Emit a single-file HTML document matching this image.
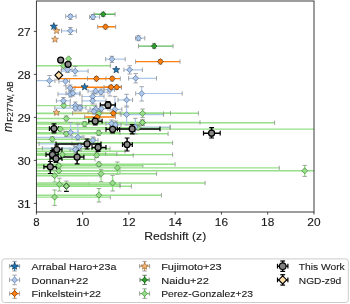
<!DOCTYPE html>
<html><head><meta charset="utf-8"><style>
html,body{margin:0;padding:0;background:#fff;}
svg{display:block;will-change:transform;}
text{font-family:"Liberation Sans",sans-serif;fill:#1a1a1a;stroke:#1a1a1a;stroke-width:0.12px;}
.tk{font-size:11.4px;}
.lg{font-size:9.7px;}
.xl{font-size:11.4px;}
</style></head><body>
<svg width="350" height="304" viewBox="0 0 350 304">
<defs><clipPath id="cp"><rect x="36.4" y="1" width="277.6" height="211"/></clipPath></defs>
<g clip-path="url(#cp)">
<line x1="36.4" y1="65.7" x2="110.3" y2="65.7" stroke="#98df8a" stroke-width="1.4"/>
<line x1="63.5" y1="63" x2="63.5" y2="68" stroke="#98df8a" stroke-width="1.4"/>
<line x1="110.3" y1="63.5" x2="110.3" y2="67.9" stroke="#8c8c8c" stroke-width="0.8"/>
<line x1="61.3" y1="63" x2="65.7" y2="63" stroke="#8c8c8c" stroke-width="0.8"/>
<line x1="61.3" y1="68" x2="65.7" y2="68" stroke="#8c8c8c" stroke-width="0.8"/>
<line x1="36.4" y1="105.6" x2="96" y2="105.6" stroke="#98df8a" stroke-width="1.4"/>
<line x1="63.8" y1="103" x2="63.8" y2="108" stroke="#98df8a" stroke-width="1.4"/>
<line x1="96" y1="103.4" x2="96" y2="107.8" stroke="#8c8c8c" stroke-width="0.8"/>
<line x1="61.6" y1="103" x2="66" y2="103" stroke="#8c8c8c" stroke-width="0.8"/>
<line x1="61.6" y1="108" x2="66" y2="108" stroke="#8c8c8c" stroke-width="0.8"/>
<line x1="36.4" y1="113.6" x2="163.4" y2="113.6" stroke="#98df8a" stroke-width="1.4"/>
<line x1="98.8" y1="111" x2="98.8" y2="116" stroke="#98df8a" stroke-width="1.4"/>
<line x1="163.4" y1="111.4" x2="163.4" y2="115.8" stroke="#8c8c8c" stroke-width="0.8"/>
<line x1="96.6" y1="111" x2="101" y2="111" stroke="#8c8c8c" stroke-width="0.8"/>
<line x1="96.6" y1="116" x2="101" y2="116" stroke="#8c8c8c" stroke-width="0.8"/>
<line x1="100" y1="113.3" x2="198.4" y2="113.3" stroke="#98df8a" stroke-width="1.4"/>
<line x1="142.6" y1="109" x2="142.6" y2="117.6" stroke="#98df8a" stroke-width="1.4"/>
<line x1="100" y1="111.1" x2="100" y2="115.5" stroke="#8c8c8c" stroke-width="0.8"/>
<line x1="198.4" y1="111.1" x2="198.4" y2="115.5" stroke="#8c8c8c" stroke-width="0.8"/>
<line x1="140.4" y1="109" x2="144.8" y2="109" stroke="#8c8c8c" stroke-width="0.8"/>
<line x1="140.4" y1="117.6" x2="144.8" y2="117.6" stroke="#8c8c8c" stroke-width="0.8"/>
<line x1="36.4" y1="113.3" x2="170.5" y2="113.3" stroke="#98df8a" stroke-width="1.4"/>
<line x1="170.5" y1="111.1" x2="170.5" y2="115.5" stroke="#8c8c8c" stroke-width="0.8"/>
<line x1="36.4" y1="118.5" x2="100" y2="118.5" stroke="#98df8a" stroke-width="1.4"/>
<line x1="66.3" y1="116" x2="66.3" y2="121" stroke="#98df8a" stroke-width="1.4"/>
<line x1="100" y1="116.3" x2="100" y2="120.7" stroke="#8c8c8c" stroke-width="0.8"/>
<line x1="64.1" y1="116" x2="68.5" y2="116" stroke="#8c8c8c" stroke-width="0.8"/>
<line x1="64.1" y1="121" x2="68.5" y2="121" stroke="#8c8c8c" stroke-width="0.8"/>
<line x1="36.4" y1="122.7" x2="274.6" y2="122.7" stroke="#98df8a" stroke-width="1.4"/>
<line x1="142.6" y1="120" x2="142.6" y2="125.5" stroke="#98df8a" stroke-width="1.4"/>
<line x1="274.6" y1="120.5" x2="274.6" y2="124.9" stroke="#8c8c8c" stroke-width="0.8"/>
<line x1="140.4" y1="120" x2="144.8" y2="120" stroke="#8c8c8c" stroke-width="0.8"/>
<line x1="140.4" y1="125.5" x2="144.8" y2="125.5" stroke="#8c8c8c" stroke-width="0.8"/>
<line x1="36.4" y1="124" x2="140" y2="124" stroke="#98df8a" stroke-width="1.4"/>
<line x1="84.6" y1="121.5" x2="84.6" y2="126.5" stroke="#98df8a" stroke-width="1.4"/>
<line x1="140" y1="121.8" x2="140" y2="126.2" stroke="#8c8c8c" stroke-width="0.8"/>
<line x1="82.4" y1="121.5" x2="86.8" y2="121.5" stroke="#8c8c8c" stroke-width="0.8"/>
<line x1="82.4" y1="126.5" x2="86.8" y2="126.5" stroke="#8c8c8c" stroke-width="0.8"/>
<line x1="36.4" y1="129.1" x2="314" y2="129.1" stroke="#98df8a" stroke-width="1.4"/>
<line x1="60.3" y1="127" x2="60.3" y2="132" stroke="#98df8a" stroke-width="1.4"/>
<line x1="58.1" y1="127" x2="62.5" y2="127" stroke="#8c8c8c" stroke-width="0.8"/>
<line x1="58.1" y1="132" x2="62.5" y2="132" stroke="#8c8c8c" stroke-width="0.8"/>
<line x1="36.4" y1="133.8" x2="168.1" y2="133.8" stroke="#98df8a" stroke-width="1.4"/>
<line x1="66.3" y1="131.5" x2="66.3" y2="136.5" stroke="#98df8a" stroke-width="1.4"/>
<line x1="168.1" y1="131.6" x2="168.1" y2="136" stroke="#8c8c8c" stroke-width="0.8"/>
<line x1="64.1" y1="131.5" x2="68.5" y2="131.5" stroke="#8c8c8c" stroke-width="0.8"/>
<line x1="64.1" y1="136.5" x2="68.5" y2="136.5" stroke="#8c8c8c" stroke-width="0.8"/>
<line x1="36.4" y1="132.8" x2="120" y2="132.8" stroke="#98df8a" stroke-width="1.4"/>
<line x1="98.7" y1="130.5" x2="98.7" y2="135.5" stroke="#98df8a" stroke-width="1.4"/>
<line x1="120" y1="130.6" x2="120" y2="135" stroke="#8c8c8c" stroke-width="0.8"/>
<line x1="96.5" y1="130.5" x2="100.9" y2="130.5" stroke="#8c8c8c" stroke-width="0.8"/>
<line x1="96.5" y1="135.5" x2="100.9" y2="135.5" stroke="#8c8c8c" stroke-width="0.8"/>
<line x1="36.4" y1="139.3" x2="95" y2="139.3" stroke="#98df8a" stroke-width="1.4"/>
<line x1="52.3" y1="136.5" x2="52.3" y2="142" stroke="#98df8a" stroke-width="1.4"/>
<line x1="95" y1="137.1" x2="95" y2="141.5" stroke="#8c8c8c" stroke-width="0.8"/>
<line x1="50.1" y1="136.5" x2="54.5" y2="136.5" stroke="#8c8c8c" stroke-width="0.8"/>
<line x1="50.1" y1="142" x2="54.5" y2="142" stroke="#8c8c8c" stroke-width="0.8"/>
<line x1="36.4" y1="154.6" x2="172.6" y2="154.6" stroke="#98df8a" stroke-width="1.4"/>
<line x1="62.4" y1="152" x2="62.4" y2="157" stroke="#98df8a" stroke-width="1.4"/>
<line x1="172.6" y1="152.4" x2="172.6" y2="156.8" stroke="#8c8c8c" stroke-width="0.8"/>
<line x1="60.2" y1="152" x2="64.6" y2="152" stroke="#8c8c8c" stroke-width="0.8"/>
<line x1="60.2" y1="157" x2="64.6" y2="157" stroke="#8c8c8c" stroke-width="0.8"/>
<line x1="36.4" y1="165.7" x2="142.9" y2="165.7" stroke="#98df8a" stroke-width="1.4"/>
<line x1="58.9" y1="163.5" x2="58.9" y2="168" stroke="#98df8a" stroke-width="1.4"/>
<line x1="142.9" y1="163.5" x2="142.9" y2="167.9" stroke="#8c8c8c" stroke-width="0.8"/>
<line x1="56.7" y1="163.5" x2="61.1" y2="163.5" stroke="#8c8c8c" stroke-width="0.8"/>
<line x1="56.7" y1="168" x2="61.1" y2="168" stroke="#8c8c8c" stroke-width="0.8"/>
<line x1="36.4" y1="170.9" x2="120" y2="170.9" stroke="#98df8a" stroke-width="1.4"/>
<line x1="58.9" y1="168.5" x2="58.9" y2="173" stroke="#98df8a" stroke-width="1.4"/>
<line x1="120" y1="168.7" x2="120" y2="173.1" stroke="#8c8c8c" stroke-width="0.8"/>
<line x1="56.7" y1="168.5" x2="61.1" y2="168.5" stroke="#8c8c8c" stroke-width="0.8"/>
<line x1="56.7" y1="173" x2="61.1" y2="173" stroke="#8c8c8c" stroke-width="0.8"/>
<line x1="36.4" y1="167.9" x2="279.3" y2="167.9" stroke="#98df8a" stroke-width="1.4"/>
<line x1="117.4" y1="162" x2="117.4" y2="174.3" stroke="#98df8a" stroke-width="1.4"/>
<line x1="279.3" y1="165.7" x2="279.3" y2="170.1" stroke="#8c8c8c" stroke-width="0.8"/>
<line x1="115.2" y1="162" x2="119.6" y2="162" stroke="#8c8c8c" stroke-width="0.8"/>
<line x1="115.2" y1="174.3" x2="119.6" y2="174.3" stroke="#8c8c8c" stroke-width="0.8"/>
<line x1="36.4" y1="173.7" x2="156.6" y2="173.7" stroke="#98df8a" stroke-width="1.4"/>
<line x1="101.1" y1="169.6" x2="101.1" y2="181.7" stroke="#98df8a" stroke-width="1.4"/>
<line x1="156.6" y1="171.5" x2="156.6" y2="175.9" stroke="#8c8c8c" stroke-width="0.8"/>
<line x1="98.9" y1="169.6" x2="103.3" y2="169.6" stroke="#8c8c8c" stroke-width="0.8"/>
<line x1="98.9" y1="181.7" x2="103.3" y2="181.7" stroke="#8c8c8c" stroke-width="0.8"/>
<line x1="36.4" y1="170.8" x2="314" y2="170.8" stroke="#98df8a" stroke-width="1.4"/>
<line x1="304.7" y1="165.4" x2="304.7" y2="176.4" stroke="#98df8a" stroke-width="1.4"/>
<line x1="302.5" y1="165.4" x2="306.9" y2="165.4" stroke="#8c8c8c" stroke-width="0.8"/>
<line x1="302.5" y1="176.4" x2="306.9" y2="176.4" stroke="#8c8c8c" stroke-width="0.8"/>
<line x1="36.4" y1="164.3" x2="175.1" y2="164.3" stroke="#98df8a" stroke-width="1.4"/>
<line x1="98.9" y1="162" x2="98.9" y2="166.5" stroke="#98df8a" stroke-width="1.4"/>
<line x1="175.1" y1="162.1" x2="175.1" y2="166.5" stroke="#8c8c8c" stroke-width="0.8"/>
<line x1="96.7" y1="162" x2="101.1" y2="162" stroke="#8c8c8c" stroke-width="0.8"/>
<line x1="96.7" y1="166.5" x2="101.1" y2="166.5" stroke="#8c8c8c" stroke-width="0.8"/>
<line x1="36.4" y1="175.7" x2="100" y2="175.7" stroke="#98df8a" stroke-width="1.4"/>
<line x1="54.6" y1="170" x2="54.6" y2="182.1" stroke="#98df8a" stroke-width="1.4"/>
<line x1="100" y1="173.5" x2="100" y2="177.9" stroke="#8c8c8c" stroke-width="0.8"/>
<line x1="52.4" y1="170" x2="56.8" y2="170" stroke="#8c8c8c" stroke-width="0.8"/>
<line x1="52.4" y1="182.1" x2="56.8" y2="182.1" stroke="#8c8c8c" stroke-width="0.8"/>
<line x1="36.4" y1="184.3" x2="88.9" y2="184.3" stroke="#98df8a" stroke-width="1.4"/>
<line x1="59.4" y1="178.2" x2="59.4" y2="191.1" stroke="#98df8a" stroke-width="1.4"/>
<line x1="88.9" y1="182.1" x2="88.9" y2="186.5" stroke="#8c8c8c" stroke-width="0.8"/>
<line x1="57.2" y1="178.2" x2="61.6" y2="178.2" stroke="#8c8c8c" stroke-width="0.8"/>
<line x1="57.2" y1="191.1" x2="61.6" y2="191.1" stroke="#8c8c8c" stroke-width="0.8"/>
<line x1="36.4" y1="186.3" x2="131.4" y2="186.3" stroke="#98df8a" stroke-width="1.4"/>
<line x1="131.4" y1="184.1" x2="131.4" y2="188.5" stroke="#8c8c8c" stroke-width="0.8"/>
<line x1="36.4" y1="183" x2="205.1" y2="183" stroke="#98df8a" stroke-width="1.4"/>
<line x1="112.6" y1="175.3" x2="112.6" y2="191" stroke="#98df8a" stroke-width="1.4"/>
<line x1="205.1" y1="180.8" x2="205.1" y2="185.2" stroke="#8c8c8c" stroke-width="0.8"/>
<line x1="110.4" y1="175.3" x2="114.8" y2="175.3" stroke="#8c8c8c" stroke-width="0.8"/>
<line x1="110.4" y1="191" x2="114.8" y2="191" stroke="#8c8c8c" stroke-width="0.8"/>
<line x1="36.4" y1="197.1" x2="110.3" y2="197.1" stroke="#98df8a" stroke-width="1.4"/>
<line x1="54.6" y1="190" x2="54.6" y2="205.4" stroke="#98df8a" stroke-width="1.4"/>
<line x1="110.3" y1="194.9" x2="110.3" y2="199.3" stroke="#8c8c8c" stroke-width="0.8"/>
<line x1="52.4" y1="190" x2="56.8" y2="190" stroke="#8c8c8c" stroke-width="0.8"/>
<line x1="52.4" y1="205.4" x2="56.8" y2="205.4" stroke="#8c8c8c" stroke-width="0.8"/>
<line x1="36.4" y1="195.2" x2="161.4" y2="195.2" stroke="#98df8a" stroke-width="1.4"/>
<line x1="98.9" y1="188.5" x2="98.9" y2="202" stroke="#98df8a" stroke-width="1.4"/>
<line x1="161.4" y1="193" x2="161.4" y2="197.4" stroke="#8c8c8c" stroke-width="0.8"/>
<line x1="96.7" y1="188.5" x2="101.1" y2="188.5" stroke="#8c8c8c" stroke-width="0.8"/>
<line x1="96.7" y1="202" x2="101.1" y2="202" stroke="#8c8c8c" stroke-width="0.8"/>
<line x1="36.4" y1="155.3" x2="133.2" y2="155.3" stroke="#98df8a" stroke-width="1.4"/>
<line x1="96.7" y1="152.5" x2="96.7" y2="157.5" stroke="#98df8a" stroke-width="1.4"/>
<line x1="133.2" y1="153.1" x2="133.2" y2="157.5" stroke="#8c8c8c" stroke-width="0.8"/>
<line x1="94.5" y1="152.5" x2="98.9" y2="152.5" stroke="#8c8c8c" stroke-width="0.8"/>
<line x1="94.5" y1="157.5" x2="98.9" y2="157.5" stroke="#8c8c8c" stroke-width="0.8"/>
<line x1="36.4" y1="122.4" x2="200" y2="122.4" stroke="#98df8a" stroke-width="1.4"/>
<line x1="142.4" y1="120" x2="142.4" y2="125" stroke="#98df8a" stroke-width="1.4"/>
<line x1="200" y1="120.2" x2="200" y2="124.6" stroke="#8c8c8c" stroke-width="0.8"/>
<line x1="140.2" y1="120" x2="144.6" y2="120" stroke="#8c8c8c" stroke-width="0.8"/>
<line x1="140.2" y1="125" x2="144.6" y2="125" stroke="#8c8c8c" stroke-width="0.8"/>
<line x1="36.4" y1="127.6" x2="170" y2="127.6" stroke="#98df8a" stroke-width="1.4"/>
<line x1="137.9" y1="125" x2="137.9" y2="130" stroke="#98df8a" stroke-width="1.4"/>
<line x1="170" y1="125.4" x2="170" y2="129.8" stroke="#8c8c8c" stroke-width="0.8"/>
<line x1="135.7" y1="125" x2="140.1" y2="125" stroke="#8c8c8c" stroke-width="0.8"/>
<line x1="135.7" y1="130" x2="140.1" y2="130" stroke="#8c8c8c" stroke-width="0.8"/>
<line x1="36.4" y1="142.8" x2="172.6" y2="142.8" stroke="#98df8a" stroke-width="1.4"/>
<line x1="172.6" y1="140.6" x2="172.6" y2="145" stroke="#8c8c8c" stroke-width="0.8"/>
<line x1="36.4" y1="153.9" x2="116.9" y2="153.9" stroke="#98df8a" stroke-width="1.4"/>
<line x1="116.9" y1="151.7" x2="116.9" y2="156.1" stroke="#8c8c8c" stroke-width="0.8"/>
<line x1="36.4" y1="153.4" x2="105.7" y2="153.4" stroke="#98df8a" stroke-width="1.4"/>
<line x1="105.7" y1="151.2" x2="105.7" y2="155.6" stroke="#8c8c8c" stroke-width="0.8"/>
<line x1="36.4" y1="148.7" x2="110" y2="148.7" stroke="#98df8a" stroke-width="1.4"/>
<line x1="110" y1="146.5" x2="110" y2="150.9" stroke="#8c8c8c" stroke-width="0.8"/>
<line x1="36.4" y1="151.2" x2="125" y2="151.2" stroke="#98df8a" stroke-width="1.4"/>
<line x1="125" y1="149" x2="125" y2="153.4" stroke="#8c8c8c" stroke-width="0.8"/>
<line x1="36.4" y1="159.4" x2="95" y2="159.4" stroke="#98df8a" stroke-width="1.4"/>
<line x1="95" y1="157.2" x2="95" y2="161.6" stroke="#8c8c8c" stroke-width="0.8"/>
<line x1="36.4" y1="186.1" x2="120" y2="186.1" stroke="#98df8a" stroke-width="1.4"/>
<line x1="66.4" y1="181.1" x2="66.4" y2="191.4" stroke="#98df8a" stroke-width="1.4"/>
<line x1="120" y1="183.9" x2="120" y2="188.3" stroke="#8c8c8c" stroke-width="0.8"/>
<line x1="64.2" y1="181.1" x2="68.6" y2="181.1" stroke="#8c8c8c" stroke-width="0.8"/>
<line x1="64.2" y1="191.4" x2="68.6" y2="191.4" stroke="#8c8c8c" stroke-width="0.8"/>
<line x1="36.4" y1="184.6" x2="120" y2="184.6" stroke="#98df8a" stroke-width="1.4"/>
<line x1="120" y1="182.4" x2="120" y2="186.8" stroke="#8c8c8c" stroke-width="0.8"/>
<line x1="65.7" y1="16.4" x2="76.1" y2="16.4" stroke="#aec7e8" stroke-width="1.2"/>
<line x1="70.4" y1="14.4" x2="70.4" y2="19.5" stroke="#aec7e8" stroke-width="1.2"/>
<line x1="65.7" y1="14.2" x2="65.7" y2="18.6" stroke="#8c8c8c" stroke-width="0.8"/>
<line x1="76.1" y1="14.2" x2="76.1" y2="18.6" stroke="#8c8c8c" stroke-width="0.8"/>
<line x1="68.2" y1="14.4" x2="72.6" y2="14.4" stroke="#8c8c8c" stroke-width="0.8"/>
<line x1="68.2" y1="19.5" x2="72.6" y2="19.5" stroke="#8c8c8c" stroke-width="0.8"/>
<line x1="89.6" y1="17" x2="99.6" y2="17" stroke="#aec7e8" stroke-width="1.2"/>
<line x1="92.9" y1="14.5" x2="92.9" y2="19.5" stroke="#aec7e8" stroke-width="1.2"/>
<line x1="89.6" y1="14.8" x2="89.6" y2="19.2" stroke="#8c8c8c" stroke-width="0.8"/>
<line x1="99.6" y1="14.8" x2="99.6" y2="19.2" stroke="#8c8c8c" stroke-width="0.8"/>
<line x1="90.7" y1="14.5" x2="95.1" y2="14.5" stroke="#8c8c8c" stroke-width="0.8"/>
<line x1="90.7" y1="19.5" x2="95.1" y2="19.5" stroke="#8c8c8c" stroke-width="0.8"/>
<line x1="61.5" y1="30.8" x2="76.5" y2="30.8" stroke="#aec7e8" stroke-width="1.2"/>
<line x1="70.4" y1="27.5" x2="70.4" y2="34.5" stroke="#aec7e8" stroke-width="1.2"/>
<line x1="61.5" y1="28.6" x2="61.5" y2="33" stroke="#8c8c8c" stroke-width="0.8"/>
<line x1="76.5" y1="28.6" x2="76.5" y2="33" stroke="#8c8c8c" stroke-width="0.8"/>
<line x1="68.2" y1="27.5" x2="72.6" y2="27.5" stroke="#8c8c8c" stroke-width="0.8"/>
<line x1="68.2" y1="34.5" x2="72.6" y2="34.5" stroke="#8c8c8c" stroke-width="0.8"/>
<line x1="135.6" y1="38.2" x2="144.8" y2="38.2" stroke="#aec7e8" stroke-width="1.2"/>
<line x1="138.5" y1="35.7" x2="138.5" y2="40.7" stroke="#aec7e8" stroke-width="1.2"/>
<line x1="135.6" y1="36" x2="135.6" y2="40.4" stroke="#8c8c8c" stroke-width="0.8"/>
<line x1="144.8" y1="36" x2="144.8" y2="40.4" stroke="#8c8c8c" stroke-width="0.8"/>
<line x1="136.3" y1="35.7" x2="140.7" y2="35.7" stroke="#8c8c8c" stroke-width="0.8"/>
<line x1="136.3" y1="40.7" x2="140.7" y2="40.7" stroke="#8c8c8c" stroke-width="0.8"/>
<line x1="105.7" y1="59.2" x2="125.2" y2="59.2" stroke="#aec7e8" stroke-width="1.2"/>
<line x1="111.9" y1="56.3" x2="111.9" y2="62.4" stroke="#aec7e8" stroke-width="1.2"/>
<line x1="105.7" y1="57" x2="105.7" y2="61.4" stroke="#8c8c8c" stroke-width="0.8"/>
<line x1="125.2" y1="57" x2="125.2" y2="61.4" stroke="#8c8c8c" stroke-width="0.8"/>
<line x1="109.7" y1="56.3" x2="114.1" y2="56.3" stroke="#8c8c8c" stroke-width="0.8"/>
<line x1="109.7" y1="62.4" x2="114.1" y2="62.4" stroke="#8c8c8c" stroke-width="0.8"/>
<line x1="123.9" y1="69.8" x2="142.4" y2="69.8" stroke="#aec7e8" stroke-width="1.2"/>
<line x1="129.6" y1="65.7" x2="129.6" y2="74" stroke="#aec7e8" stroke-width="1.2"/>
<line x1="123.9" y1="67.6" x2="123.9" y2="72" stroke="#8c8c8c" stroke-width="0.8"/>
<line x1="142.4" y1="67.6" x2="142.4" y2="72" stroke="#8c8c8c" stroke-width="0.8"/>
<line x1="127.4" y1="65.7" x2="131.8" y2="65.7" stroke="#8c8c8c" stroke-width="0.8"/>
<line x1="127.4" y1="74" x2="131.8" y2="74" stroke="#8c8c8c" stroke-width="0.8"/>
<line x1="128.6" y1="78.3" x2="156.5" y2="78.3" stroke="#aec7e8" stroke-width="1.2"/>
<line x1="135.7" y1="73.6" x2="135.7" y2="82.9" stroke="#aec7e8" stroke-width="1.2"/>
<line x1="128.6" y1="76.1" x2="128.6" y2="80.5" stroke="#8c8c8c" stroke-width="0.8"/>
<line x1="156.5" y1="76.1" x2="156.5" y2="80.5" stroke="#8c8c8c" stroke-width="0.8"/>
<line x1="133.5" y1="73.6" x2="137.9" y2="73.6" stroke="#8c8c8c" stroke-width="0.8"/>
<line x1="133.5" y1="82.9" x2="137.9" y2="82.9" stroke="#8c8c8c" stroke-width="0.8"/>
<line x1="135.7" y1="93.5" x2="182.2" y2="93.5" stroke="#aec7e8" stroke-width="1.2"/>
<line x1="141.7" y1="86.7" x2="141.7" y2="101" stroke="#aec7e8" stroke-width="1.2"/>
<line x1="135.7" y1="91.3" x2="135.7" y2="95.7" stroke="#8c8c8c" stroke-width="0.8"/>
<line x1="182.2" y1="91.3" x2="182.2" y2="95.7" stroke="#8c8c8c" stroke-width="0.8"/>
<line x1="139.5" y1="86.7" x2="143.9" y2="86.7" stroke="#8c8c8c" stroke-width="0.8"/>
<line x1="139.5" y1="101" x2="143.9" y2="101" stroke="#8c8c8c" stroke-width="0.8"/>
<line x1="61.4" y1="69.6" x2="72" y2="69.6" stroke="#aec7e8" stroke-width="1.2"/>
<line x1="67.6" y1="67" x2="67.6" y2="72.5" stroke="#aec7e8" stroke-width="1.2"/>
<line x1="61.4" y1="67.4" x2="61.4" y2="71.8" stroke="#8c8c8c" stroke-width="0.8"/>
<line x1="72" y1="67.4" x2="72" y2="71.8" stroke="#8c8c8c" stroke-width="0.8"/>
<line x1="65.4" y1="67" x2="69.8" y2="67" stroke="#8c8c8c" stroke-width="0.8"/>
<line x1="65.4" y1="72.5" x2="69.8" y2="72.5" stroke="#8c8c8c" stroke-width="0.8"/>
<line x1="61.2" y1="71.2" x2="88.1" y2="71.2" stroke="#aec7e8" stroke-width="1.2"/>
<line x1="75.2" y1="66.5" x2="75.2" y2="75.9" stroke="#aec7e8" stroke-width="1.2"/>
<line x1="61.2" y1="69" x2="61.2" y2="73.4" stroke="#8c8c8c" stroke-width="0.8"/>
<line x1="88.1" y1="69" x2="88.1" y2="73.4" stroke="#8c8c8c" stroke-width="0.8"/>
<line x1="73" y1="66.5" x2="77.4" y2="66.5" stroke="#8c8c8c" stroke-width="0.8"/>
<line x1="73" y1="75.9" x2="77.4" y2="75.9" stroke="#8c8c8c" stroke-width="0.8"/>
<line x1="36.4" y1="80.7" x2="55" y2="80.7" stroke="#aec7e8" stroke-width="1.2"/>
<line x1="49.5" y1="75.5" x2="49.5" y2="86.3" stroke="#aec7e8" stroke-width="1.2"/>
<line x1="55" y1="78.5" x2="55" y2="82.9" stroke="#8c8c8c" stroke-width="0.8"/>
<line x1="47.3" y1="75.5" x2="51.7" y2="75.5" stroke="#8c8c8c" stroke-width="0.8"/>
<line x1="47.3" y1="86.3" x2="51.7" y2="86.3" stroke="#8c8c8c" stroke-width="0.8"/>
<line x1="58.9" y1="81.3" x2="69.6" y2="81.3" stroke="#aec7e8" stroke-width="1.2"/>
<line x1="65.5" y1="79.2" x2="65.5" y2="85.8" stroke="#aec7e8" stroke-width="1.2"/>
<line x1="58.9" y1="79.1" x2="58.9" y2="83.5" stroke="#8c8c8c" stroke-width="0.8"/>
<line x1="69.6" y1="79.1" x2="69.6" y2="83.5" stroke="#8c8c8c" stroke-width="0.8"/>
<line x1="63.3" y1="79.2" x2="67.7" y2="79.2" stroke="#8c8c8c" stroke-width="0.8"/>
<line x1="63.3" y1="85.8" x2="67.7" y2="85.8" stroke="#8c8c8c" stroke-width="0.8"/>
<line x1="118" y1="99.9" x2="132.6" y2="99.9" stroke="#aec7e8" stroke-width="1.2"/>
<line x1="126.6" y1="94.3" x2="126.6" y2="107.1" stroke="#aec7e8" stroke-width="1.2"/>
<line x1="118" y1="97.7" x2="118" y2="102.1" stroke="#8c8c8c" stroke-width="0.8"/>
<line x1="132.6" y1="97.7" x2="132.6" y2="102.1" stroke="#8c8c8c" stroke-width="0.8"/>
<line x1="124.4" y1="94.3" x2="128.8" y2="94.3" stroke="#8c8c8c" stroke-width="0.8"/>
<line x1="124.4" y1="107.1" x2="128.8" y2="107.1" stroke="#8c8c8c" stroke-width="0.8"/>
<line x1="121" y1="114.6" x2="163.6" y2="114.6" stroke="#aec7e8" stroke-width="1.2"/>
<line x1="126.6" y1="106" x2="126.6" y2="125" stroke="#aec7e8" stroke-width="1.2"/>
<line x1="121" y1="112.4" x2="121" y2="116.8" stroke="#8c8c8c" stroke-width="0.8"/>
<line x1="163.6" y1="112.4" x2="163.6" y2="116.8" stroke="#8c8c8c" stroke-width="0.8"/>
<line x1="124.4" y1="106" x2="128.8" y2="106" stroke="#8c8c8c" stroke-width="0.8"/>
<line x1="124.4" y1="125" x2="128.8" y2="125" stroke="#8c8c8c" stroke-width="0.8"/>
<line x1="66" y1="88" x2="75" y2="88" stroke="#aec7e8" stroke-width="1.2"/>
<line x1="70.2" y1="85" x2="70.2" y2="91" stroke="#aec7e8" stroke-width="1.2"/>
<line x1="66" y1="85.8" x2="66" y2="90.2" stroke="#8c8c8c" stroke-width="0.8"/>
<line x1="75" y1="85.8" x2="75" y2="90.2" stroke="#8c8c8c" stroke-width="0.8"/>
<line x1="68" y1="85" x2="72.4" y2="85" stroke="#8c8c8c" stroke-width="0.8"/>
<line x1="68" y1="91" x2="72.4" y2="91" stroke="#8c8c8c" stroke-width="0.8"/>
<line x1="58" y1="94.2" x2="79.9" y2="94.2" stroke="#aec7e8" stroke-width="1.2"/>
<line x1="70.4" y1="91" x2="70.4" y2="97" stroke="#aec7e8" stroke-width="1.2"/>
<line x1="58" y1="92" x2="58" y2="96.4" stroke="#8c8c8c" stroke-width="0.8"/>
<line x1="79.9" y1="92" x2="79.9" y2="96.4" stroke="#8c8c8c" stroke-width="0.8"/>
<line x1="68.2" y1="91" x2="72.6" y2="91" stroke="#8c8c8c" stroke-width="0.8"/>
<line x1="68.2" y1="97" x2="72.6" y2="97" stroke="#8c8c8c" stroke-width="0.8"/>
<line x1="66" y1="93.2" x2="80" y2="93.2" stroke="#aec7e8" stroke-width="1.2"/>
<line x1="72.9" y1="90" x2="72.9" y2="96" stroke="#aec7e8" stroke-width="1.2"/>
<line x1="66" y1="91" x2="66" y2="95.4" stroke="#8c8c8c" stroke-width="0.8"/>
<line x1="80" y1="91" x2="80" y2="95.4" stroke="#8c8c8c" stroke-width="0.8"/>
<line x1="70.7" y1="90" x2="75.1" y2="90" stroke="#8c8c8c" stroke-width="0.8"/>
<line x1="70.7" y1="96" x2="75.1" y2="96" stroke="#8c8c8c" stroke-width="0.8"/>
<line x1="56.4" y1="100.8" x2="70.3" y2="100.8" stroke="#aec7e8" stroke-width="1.2"/>
<line x1="63.4" y1="97.5" x2="63.4" y2="104" stroke="#aec7e8" stroke-width="1.2"/>
<line x1="56.4" y1="98.6" x2="56.4" y2="103" stroke="#8c8c8c" stroke-width="0.8"/>
<line x1="70.3" y1="98.6" x2="70.3" y2="103" stroke="#8c8c8c" stroke-width="0.8"/>
<line x1="61.2" y1="97.5" x2="65.6" y2="97.5" stroke="#8c8c8c" stroke-width="0.8"/>
<line x1="61.2" y1="104" x2="65.6" y2="104" stroke="#8c8c8c" stroke-width="0.8"/>
<line x1="88" y1="91.1" x2="104" y2="91.1" stroke="#aec7e8" stroke-width="1.2"/>
<line x1="95.6" y1="88" x2="95.6" y2="94" stroke="#aec7e8" stroke-width="1.2"/>
<line x1="88" y1="88.9" x2="88" y2="93.3" stroke="#8c8c8c" stroke-width="0.8"/>
<line x1="104" y1="88.9" x2="104" y2="93.3" stroke="#8c8c8c" stroke-width="0.8"/>
<line x1="93.4" y1="88" x2="97.8" y2="88" stroke="#8c8c8c" stroke-width="0.8"/>
<line x1="93.4" y1="94" x2="97.8" y2="94" stroke="#8c8c8c" stroke-width="0.8"/>
<line x1="94" y1="92.2" x2="108" y2="92.2" stroke="#aec7e8" stroke-width="1.2"/>
<line x1="100.9" y1="89" x2="100.9" y2="95" stroke="#aec7e8" stroke-width="1.2"/>
<line x1="94" y1="90" x2="94" y2="94.4" stroke="#8c8c8c" stroke-width="0.8"/>
<line x1="108" y1="90" x2="108" y2="94.4" stroke="#8c8c8c" stroke-width="0.8"/>
<line x1="98.7" y1="89" x2="103.1" y2="89" stroke="#8c8c8c" stroke-width="0.8"/>
<line x1="98.7" y1="95" x2="103.1" y2="95" stroke="#8c8c8c" stroke-width="0.8"/>
<line x1="82" y1="96.5" x2="104" y2="96.5" stroke="#aec7e8" stroke-width="1.2"/>
<line x1="92.7" y1="93" x2="92.7" y2="100" stroke="#aec7e8" stroke-width="1.2"/>
<line x1="82" y1="94.3" x2="82" y2="98.7" stroke="#8c8c8c" stroke-width="0.8"/>
<line x1="104" y1="94.3" x2="104" y2="98.7" stroke="#8c8c8c" stroke-width="0.8"/>
<line x1="90.5" y1="93" x2="94.9" y2="93" stroke="#8c8c8c" stroke-width="0.8"/>
<line x1="90.5" y1="100" x2="94.9" y2="100" stroke="#8c8c8c" stroke-width="0.8"/>
<line x1="82" y1="100.8" x2="106" y2="100.8" stroke="#aec7e8" stroke-width="1.2"/>
<line x1="92.7" y1="98" x2="92.7" y2="104" stroke="#aec7e8" stroke-width="1.2"/>
<line x1="82" y1="98.6" x2="82" y2="103" stroke="#8c8c8c" stroke-width="0.8"/>
<line x1="106" y1="98.6" x2="106" y2="103" stroke="#8c8c8c" stroke-width="0.8"/>
<line x1="90.5" y1="98" x2="94.9" y2="98" stroke="#8c8c8c" stroke-width="0.8"/>
<line x1="90.5" y1="104" x2="94.9" y2="104" stroke="#8c8c8c" stroke-width="0.8"/>
<line x1="104" y1="89.6" x2="114.6" y2="89.6" stroke="#aec7e8" stroke-width="1.2"/>
<line x1="109.9" y1="86" x2="109.9" y2="96" stroke="#aec7e8" stroke-width="1.2"/>
<line x1="104" y1="87.4" x2="104" y2="91.8" stroke="#8c8c8c" stroke-width="0.8"/>
<line x1="114.6" y1="87.4" x2="114.6" y2="91.8" stroke="#8c8c8c" stroke-width="0.8"/>
<line x1="107.7" y1="86" x2="112.1" y2="86" stroke="#8c8c8c" stroke-width="0.8"/>
<line x1="107.7" y1="96" x2="112.1" y2="96" stroke="#8c8c8c" stroke-width="0.8"/>
<line x1="70" y1="105.4" x2="82" y2="105.4" stroke="#aec7e8" stroke-width="1.2"/>
<line x1="75.4" y1="102" x2="75.4" y2="109" stroke="#aec7e8" stroke-width="1.2"/>
<line x1="70" y1="103.2" x2="70" y2="107.6" stroke="#8c8c8c" stroke-width="0.8"/>
<line x1="82" y1="103.2" x2="82" y2="107.6" stroke="#8c8c8c" stroke-width="0.8"/>
<line x1="73.2" y1="102" x2="77.6" y2="102" stroke="#8c8c8c" stroke-width="0.8"/>
<line x1="73.2" y1="109" x2="77.6" y2="109" stroke="#8c8c8c" stroke-width="0.8"/>
<line x1="54.8" y1="108.2" x2="82" y2="108.2" stroke="#aec7e8" stroke-width="1.2"/>
<line x1="75.4" y1="105" x2="75.4" y2="111" stroke="#aec7e8" stroke-width="1.2"/>
<line x1="54.8" y1="106" x2="54.8" y2="110.4" stroke="#8c8c8c" stroke-width="0.8"/>
<line x1="82" y1="106" x2="82" y2="110.4" stroke="#8c8c8c" stroke-width="0.8"/>
<line x1="73.2" y1="105" x2="77.6" y2="105" stroke="#8c8c8c" stroke-width="0.8"/>
<line x1="73.2" y1="111" x2="77.6" y2="111" stroke="#8c8c8c" stroke-width="0.8"/>
<line x1="74" y1="107.8" x2="86" y2="107.8" stroke="#aec7e8" stroke-width="1.2"/>
<line x1="79.9" y1="105" x2="79.9" y2="111" stroke="#aec7e8" stroke-width="1.2"/>
<line x1="74" y1="105.6" x2="74" y2="110" stroke="#8c8c8c" stroke-width="0.8"/>
<line x1="86" y1="105.6" x2="86" y2="110" stroke="#8c8c8c" stroke-width="0.8"/>
<line x1="77.7" y1="105" x2="82.1" y2="105" stroke="#8c8c8c" stroke-width="0.8"/>
<line x1="77.7" y1="111" x2="82.1" y2="111" stroke="#8c8c8c" stroke-width="0.8"/>
<line x1="90" y1="109.1" x2="102" y2="109.1" stroke="#aec7e8" stroke-width="1.2"/>
<line x1="95.6" y1="106" x2="95.6" y2="112" stroke="#aec7e8" stroke-width="1.2"/>
<line x1="90" y1="106.9" x2="90" y2="111.3" stroke="#8c8c8c" stroke-width="0.8"/>
<line x1="102" y1="106.9" x2="102" y2="111.3" stroke="#8c8c8c" stroke-width="0.8"/>
<line x1="93.4" y1="106" x2="97.8" y2="106" stroke="#8c8c8c" stroke-width="0.8"/>
<line x1="93.4" y1="112" x2="97.8" y2="112" stroke="#8c8c8c" stroke-width="0.8"/>
<line x1="96" y1="108.7" x2="108" y2="108.7" stroke="#aec7e8" stroke-width="1.2"/>
<line x1="101.4" y1="106" x2="101.4" y2="112" stroke="#aec7e8" stroke-width="1.2"/>
<line x1="96" y1="106.5" x2="96" y2="110.9" stroke="#8c8c8c" stroke-width="0.8"/>
<line x1="108" y1="106.5" x2="108" y2="110.9" stroke="#8c8c8c" stroke-width="0.8"/>
<line x1="99.2" y1="106" x2="103.6" y2="106" stroke="#8c8c8c" stroke-width="0.8"/>
<line x1="99.2" y1="112" x2="103.6" y2="112" stroke="#8c8c8c" stroke-width="0.8"/>
<line x1="88" y1="111.4" x2="100" y2="111.4" stroke="#aec7e8" stroke-width="1.2"/>
<line x1="94" y1="109" x2="94" y2="114" stroke="#aec7e8" stroke-width="1.2"/>
<line x1="88" y1="109.2" x2="88" y2="113.6" stroke="#8c8c8c" stroke-width="0.8"/>
<line x1="100" y1="109.2" x2="100" y2="113.6" stroke="#8c8c8c" stroke-width="0.8"/>
<line x1="91.8" y1="109" x2="96.2" y2="109" stroke="#8c8c8c" stroke-width="0.8"/>
<line x1="91.8" y1="114" x2="96.2" y2="114" stroke="#8c8c8c" stroke-width="0.8"/>
<line x1="110" y1="109.4" x2="121.9" y2="109.4" stroke="#aec7e8" stroke-width="1.2"/>
<line x1="115" y1="96.4" x2="115" y2="112" stroke="#aec7e8" stroke-width="1.2"/>
<line x1="110" y1="107.2" x2="110" y2="111.6" stroke="#8c8c8c" stroke-width="0.8"/>
<line x1="121.9" y1="107.2" x2="121.9" y2="111.6" stroke="#8c8c8c" stroke-width="0.8"/>
<line x1="112.8" y1="96.4" x2="117.2" y2="96.4" stroke="#8c8c8c" stroke-width="0.8"/>
<line x1="112.8" y1="112" x2="117.2" y2="112" stroke="#8c8c8c" stroke-width="0.8"/>
<line x1="64" y1="132.3" x2="78" y2="132.3" stroke="#aec7e8" stroke-width="1.2"/>
<line x1="70.6" y1="122.6" x2="70.6" y2="136" stroke="#aec7e8" stroke-width="1.2"/>
<line x1="64" y1="130.1" x2="64" y2="134.5" stroke="#8c8c8c" stroke-width="0.8"/>
<line x1="78" y1="130.1" x2="78" y2="134.5" stroke="#8c8c8c" stroke-width="0.8"/>
<line x1="68.4" y1="122.6" x2="72.8" y2="122.6" stroke="#8c8c8c" stroke-width="0.8"/>
<line x1="68.4" y1="136" x2="72.8" y2="136" stroke="#8c8c8c" stroke-width="0.8"/>
<line x1="72" y1="137.1" x2="84" y2="137.1" stroke="#aec7e8" stroke-width="1.2"/>
<line x1="77.8" y1="124" x2="77.8" y2="140" stroke="#aec7e8" stroke-width="1.2"/>
<line x1="72" y1="134.9" x2="72" y2="139.3" stroke="#8c8c8c" stroke-width="0.8"/>
<line x1="84" y1="134.9" x2="84" y2="139.3" stroke="#8c8c8c" stroke-width="0.8"/>
<line x1="75.6" y1="124" x2="80" y2="124" stroke="#8c8c8c" stroke-width="0.8"/>
<line x1="75.6" y1="140" x2="80" y2="140" stroke="#8c8c8c" stroke-width="0.8"/>
<line x1="70" y1="149.6" x2="81" y2="149.6" stroke="#aec7e8" stroke-width="1.2"/>
<line x1="75.3" y1="146" x2="75.3" y2="153" stroke="#aec7e8" stroke-width="1.2"/>
<line x1="70" y1="147.4" x2="70" y2="151.8" stroke="#8c8c8c" stroke-width="0.8"/>
<line x1="81" y1="147.4" x2="81" y2="151.8" stroke="#8c8c8c" stroke-width="0.8"/>
<line x1="73.1" y1="146" x2="77.5" y2="146" stroke="#8c8c8c" stroke-width="0.8"/>
<line x1="73.1" y1="153" x2="77.5" y2="153" stroke="#8c8c8c" stroke-width="0.8"/>
<line x1="74" y1="146.6" x2="85" y2="146.6" stroke="#aec7e8" stroke-width="1.2"/>
<line x1="79.5" y1="143" x2="79.5" y2="150" stroke="#aec7e8" stroke-width="1.2"/>
<line x1="74" y1="144.4" x2="74" y2="148.8" stroke="#8c8c8c" stroke-width="0.8"/>
<line x1="85" y1="144.4" x2="85" y2="148.8" stroke="#8c8c8c" stroke-width="0.8"/>
<line x1="77.3" y1="143" x2="81.7" y2="143" stroke="#8c8c8c" stroke-width="0.8"/>
<line x1="77.3" y1="150" x2="81.7" y2="150" stroke="#8c8c8c" stroke-width="0.8"/>
<line x1="88" y1="140.3" x2="98" y2="140.3" stroke="#aec7e8" stroke-width="1.2"/>
<line x1="92.9" y1="137" x2="92.9" y2="144" stroke="#aec7e8" stroke-width="1.2"/>
<line x1="88" y1="138.1" x2="88" y2="142.5" stroke="#8c8c8c" stroke-width="0.8"/>
<line x1="98" y1="138.1" x2="98" y2="142.5" stroke="#8c8c8c" stroke-width="0.8"/>
<line x1="90.7" y1="137" x2="95.1" y2="137" stroke="#8c8c8c" stroke-width="0.8"/>
<line x1="90.7" y1="144" x2="95.1" y2="144" stroke="#8c8c8c" stroke-width="0.8"/>
<line x1="106" y1="123.6" x2="117" y2="123.6" stroke="#aec7e8" stroke-width="1.2"/>
<line x1="111.6" y1="120" x2="111.6" y2="127" stroke="#aec7e8" stroke-width="1.2"/>
<line x1="106" y1="121.4" x2="106" y2="125.8" stroke="#8c8c8c" stroke-width="0.8"/>
<line x1="117" y1="121.4" x2="117" y2="125.8" stroke="#8c8c8c" stroke-width="0.8"/>
<line x1="109.4" y1="120" x2="113.8" y2="120" stroke="#8c8c8c" stroke-width="0.8"/>
<line x1="109.4" y1="127" x2="113.8" y2="127" stroke="#8c8c8c" stroke-width="0.8"/>
<line x1="110" y1="124.9" x2="121" y2="124.9" stroke="#aec7e8" stroke-width="1.2"/>
<line x1="115.4" y1="121" x2="115.4" y2="128" stroke="#aec7e8" stroke-width="1.2"/>
<line x1="110" y1="122.7" x2="110" y2="127.1" stroke="#8c8c8c" stroke-width="0.8"/>
<line x1="121" y1="122.7" x2="121" y2="127.1" stroke="#8c8c8c" stroke-width="0.8"/>
<line x1="113.2" y1="121" x2="117.6" y2="121" stroke="#8c8c8c" stroke-width="0.8"/>
<line x1="113.2" y1="128" x2="117.6" y2="128" stroke="#8c8c8c" stroke-width="0.8"/>
<line x1="130" y1="127" x2="170.3" y2="127" stroke="#aec7e8" stroke-width="1.2"/>
<line x1="135.4" y1="118.3" x2="135.4" y2="134" stroke="#aec7e8" stroke-width="1.2"/>
<line x1="130" y1="124.8" x2="130" y2="129.2" stroke="#8c8c8c" stroke-width="0.8"/>
<line x1="170.3" y1="124.8" x2="170.3" y2="129.2" stroke="#8c8c8c" stroke-width="0.8"/>
<line x1="133.2" y1="118.3" x2="137.6" y2="118.3" stroke="#8c8c8c" stroke-width="0.8"/>
<line x1="133.2" y1="134" x2="137.6" y2="134" stroke="#8c8c8c" stroke-width="0.8"/>
<line x1="36.4" y1="137.3" x2="82" y2="137.3" stroke="#aec7e8" stroke-width="1.2"/>
<line x1="82" y1="135.1" x2="82" y2="139.5" stroke="#8c8c8c" stroke-width="0.8"/>
<line x1="39" y1="143.8" x2="72" y2="143.8" stroke="#aec7e8" stroke-width="1.2"/>
<line x1="39" y1="141.6" x2="39" y2="146" stroke="#8c8c8c" stroke-width="0.8"/>
<line x1="72" y1="141.6" x2="72" y2="146" stroke="#8c8c8c" stroke-width="0.8"/>
<line x1="42.4" y1="148.2" x2="76" y2="148.2" stroke="#aec7e8" stroke-width="1.2"/>
<line x1="42.4" y1="146" x2="42.4" y2="150.4" stroke="#8c8c8c" stroke-width="0.8"/>
<line x1="76" y1="146" x2="76" y2="150.4" stroke="#8c8c8c" stroke-width="0.8"/>
<line x1="97.7" y1="26.8" x2="115.7" y2="26.8" stroke="#ff7f0e" stroke-width="1.4"/>
<line x1="105.5" y1="25" x2="105.5" y2="29" stroke="#ff7f0e" stroke-width="1.4"/>
<line x1="97.7" y1="24.6" x2="97.7" y2="29" stroke="#8c8c8c" stroke-width="0.8"/>
<line x1="115.7" y1="24.6" x2="115.7" y2="29" stroke="#8c8c8c" stroke-width="0.8"/>
<line x1="103.3" y1="25" x2="107.7" y2="25" stroke="#8c8c8c" stroke-width="0.8"/>
<line x1="103.3" y1="29" x2="107.7" y2="29" stroke="#8c8c8c" stroke-width="0.8"/>
<line x1="135.6" y1="61.6" x2="180" y2="61.6" stroke="#ff7f0e" stroke-width="1.4"/>
<line x1="160.4" y1="59.5" x2="160.4" y2="64" stroke="#ff7f0e" stroke-width="1.4"/>
<line x1="135.6" y1="59.4" x2="135.6" y2="63.8" stroke="#8c8c8c" stroke-width="0.8"/>
<line x1="180" y1="59.4" x2="180" y2="63.8" stroke="#8c8c8c" stroke-width="0.8"/>
<line x1="158.2" y1="59.5" x2="162.6" y2="59.5" stroke="#8c8c8c" stroke-width="0.8"/>
<line x1="158.2" y1="64" x2="162.6" y2="64" stroke="#8c8c8c" stroke-width="0.8"/>
<line x1="57" y1="78.6" x2="106" y2="78.6" stroke="#ff7f0e" stroke-width="1.4"/>
<line x1="96.4" y1="76.5" x2="96.4" y2="81" stroke="#ff7f0e" stroke-width="1.4"/>
<line x1="57" y1="76.4" x2="57" y2="80.8" stroke="#8c8c8c" stroke-width="0.8"/>
<line x1="106" y1="76.4" x2="106" y2="80.8" stroke="#8c8c8c" stroke-width="0.8"/>
<line x1="94.2" y1="76.5" x2="98.6" y2="76.5" stroke="#8c8c8c" stroke-width="0.8"/>
<line x1="94.2" y1="81" x2="98.6" y2="81" stroke="#8c8c8c" stroke-width="0.8"/>
<line x1="87.5" y1="78.6" x2="120.3" y2="78.6" stroke="#ff7f0e" stroke-width="1.4"/>
<line x1="112.2" y1="76.5" x2="112.2" y2="81" stroke="#ff7f0e" stroke-width="1.4"/>
<line x1="87.5" y1="76.4" x2="87.5" y2="80.8" stroke="#8c8c8c" stroke-width="0.8"/>
<line x1="120.3" y1="76.4" x2="120.3" y2="80.8" stroke="#8c8c8c" stroke-width="0.8"/>
<line x1="110" y1="76.5" x2="114.4" y2="76.5" stroke="#8c8c8c" stroke-width="0.8"/>
<line x1="110" y1="81" x2="114.4" y2="81" stroke="#8c8c8c" stroke-width="0.8"/>
<line x1="70.6" y1="87.2" x2="121.4" y2="87.2" stroke="#ff7f0e" stroke-width="1.4"/>
<line x1="111.1" y1="85" x2="111.1" y2="89.5" stroke="#ff7f0e" stroke-width="1.4"/>
<line x1="70.6" y1="85" x2="70.6" y2="89.4" stroke="#8c8c8c" stroke-width="0.8"/>
<line x1="121.4" y1="85" x2="121.4" y2="89.4" stroke="#8c8c8c" stroke-width="0.8"/>
<line x1="108.9" y1="85" x2="113.3" y2="85" stroke="#8c8c8c" stroke-width="0.8"/>
<line x1="108.9" y1="89.5" x2="113.3" y2="89.5" stroke="#8c8c8c" stroke-width="0.8"/>
<line x1="104" y1="87.2" x2="121.4" y2="87.2" stroke="#ff7f0e" stroke-width="1.4"/>
<line x1="116.7" y1="85" x2="116.7" y2="89.5" stroke="#ff7f0e" stroke-width="1.4"/>
<line x1="104" y1="85" x2="104" y2="89.4" stroke="#8c8c8c" stroke-width="0.8"/>
<line x1="121.4" y1="85" x2="121.4" y2="89.4" stroke="#8c8c8c" stroke-width="0.8"/>
<line x1="114.5" y1="85" x2="118.9" y2="85" stroke="#8c8c8c" stroke-width="0.8"/>
<line x1="114.5" y1="89.5" x2="118.9" y2="89.5" stroke="#8c8c8c" stroke-width="0.8"/>
<line x1="72.6" y1="113.3" x2="120.1" y2="113.3" stroke="#ff7f0e" stroke-width="1.4" stroke-opacity="0.4"/>
<line x1="113.3" y1="111" x2="113.3" y2="115.5" stroke="#ff7f0e" stroke-width="1.4" stroke-opacity="0.4"/>
<line x1="72.6" y1="111.1" x2="72.6" y2="115.5" stroke="#8c8c8c" stroke-width="0.8"/>
<line x1="120.1" y1="111.1" x2="120.1" y2="115.5" stroke="#8c8c8c" stroke-width="0.8"/>
<line x1="111.1" y1="111" x2="115.5" y2="111" stroke="#8c8c8c" stroke-width="0.8"/>
<line x1="111.1" y1="115.5" x2="115.5" y2="115.5" stroke="#8c8c8c" stroke-width="0.8"/>
<line x1="84.6" y1="117" x2="115.4" y2="117" stroke="#ff7f0e" stroke-width="1.4"/>
<line x1="97.2" y1="115" x2="97.2" y2="119" stroke="#ff7f0e" stroke-width="1.4"/>
<line x1="84.6" y1="114.8" x2="84.6" y2="119.2" stroke="#8c8c8c" stroke-width="0.8"/>
<line x1="115.4" y1="114.8" x2="115.4" y2="119.2" stroke="#8c8c8c" stroke-width="0.8"/>
<line x1="95" y1="115" x2="99.4" y2="115" stroke="#8c8c8c" stroke-width="0.8"/>
<line x1="95" y1="119" x2="99.4" y2="119" stroke="#8c8c8c" stroke-width="0.8"/>
<line x1="94" y1="14.3" x2="115.1" y2="14.3" stroke="#5cb85c" stroke-width="1.4"/>
<line x1="103.2" y1="12.2" x2="103.2" y2="16.5" stroke="#5cb85c" stroke-width="1.4"/>
<line x1="94" y1="12.1" x2="94" y2="16.5" stroke="#8c8c8c" stroke-width="0.8"/>
<line x1="115.1" y1="12.1" x2="115.1" y2="16.5" stroke="#8c8c8c" stroke-width="0.8"/>
<line x1="101" y1="12.2" x2="105.4" y2="12.2" stroke="#8c8c8c" stroke-width="0.8"/>
<line x1="101" y1="16.5" x2="105.4" y2="16.5" stroke="#8c8c8c" stroke-width="0.8"/>
<line x1="138.5" y1="46.1" x2="173" y2="46.1" stroke="#5cb85c" stroke-width="1.4"/>
<line x1="154.2" y1="43.4" x2="154.2" y2="48.6" stroke="#5cb85c" stroke-width="1.4"/>
<line x1="138.5" y1="43.9" x2="138.5" y2="48.3" stroke="#8c8c8c" stroke-width="0.8"/>
<line x1="173" y1="43.9" x2="173" y2="48.3" stroke="#8c8c8c" stroke-width="0.8"/>
<line x1="152" y1="43.4" x2="156.4" y2="43.4" stroke="#8c8c8c" stroke-width="0.8"/>
<line x1="152" y1="48.6" x2="156.4" y2="48.6" stroke="#8c8c8c" stroke-width="0.8"/>
<line x1="100.3" y1="105" x2="115.3" y2="105" stroke="#000" stroke-width="1.5"/>
<line x1="108" y1="101.5" x2="108" y2="108.5" stroke="#000" stroke-width="1.5"/>
<line x1="100.3" y1="102.6" x2="100.3" y2="107.4" stroke="#000" stroke-width="1.2"/>
<line x1="115.3" y1="102.6" x2="115.3" y2="107.4" stroke="#000" stroke-width="1.2"/>
<line x1="105.6" y1="101.5" x2="110.4" y2="101.5" stroke="#000" stroke-width="1.2"/>
<line x1="105.6" y1="108.5" x2="110.4" y2="108.5" stroke="#000" stroke-width="1.2"/>
<line x1="88.8" y1="121.2" x2="102.1" y2="121.2" stroke="#000" stroke-width="1.5"/>
<line x1="95.2" y1="117.5" x2="95.2" y2="125" stroke="#000" stroke-width="1.5"/>
<line x1="88.8" y1="118.8" x2="88.8" y2="123.6" stroke="#000" stroke-width="1.2"/>
<line x1="102.1" y1="118.8" x2="102.1" y2="123.6" stroke="#000" stroke-width="1.2"/>
<line x1="92.8" y1="117.5" x2="97.6" y2="117.5" stroke="#000" stroke-width="1.2"/>
<line x1="92.8" y1="125" x2="97.6" y2="125" stroke="#000" stroke-width="1.2"/>
<line x1="49.4" y1="128.6" x2="58.6" y2="128.6" stroke="#000" stroke-width="1.5"/>
<line x1="54" y1="123.9" x2="54" y2="132.8" stroke="#000" stroke-width="1.5"/>
<line x1="49.4" y1="126.2" x2="49.4" y2="131" stroke="#000" stroke-width="1.2"/>
<line x1="58.6" y1="126.2" x2="58.6" y2="131" stroke="#000" stroke-width="1.2"/>
<line x1="51.6" y1="123.9" x2="56.4" y2="123.9" stroke="#000" stroke-width="1.2"/>
<line x1="51.6" y1="132.8" x2="56.4" y2="132.8" stroke="#000" stroke-width="1.2"/>
<line x1="106" y1="129.3" x2="119.6" y2="129.3" stroke="#000" stroke-width="1.5"/>
<line x1="112.6" y1="125.5" x2="112.6" y2="133" stroke="#000" stroke-width="1.5"/>
<line x1="106" y1="126.9" x2="106" y2="131.7" stroke="#000" stroke-width="1.2"/>
<line x1="119.6" y1="126.9" x2="119.6" y2="131.7" stroke="#000" stroke-width="1.2"/>
<line x1="110.2" y1="125.5" x2="115" y2="125.5" stroke="#000" stroke-width="1.2"/>
<line x1="110.2" y1="133" x2="115" y2="133" stroke="#000" stroke-width="1.2"/>
<line x1="117.4" y1="128.9" x2="160" y2="128.9" stroke="#000" stroke-width="1.5"/>
<line x1="132.2" y1="124.6" x2="132.2" y2="133.9" stroke="#000" stroke-width="1.5"/>
<line x1="117.4" y1="126.5" x2="117.4" y2="131.3" stroke="#000" stroke-width="1.2"/>
<line x1="160" y1="126.5" x2="160" y2="131.3" stroke="#000" stroke-width="1.2"/>
<line x1="129.8" y1="124.6" x2="134.6" y2="124.6" stroke="#000" stroke-width="1.2"/>
<line x1="129.8" y1="133.9" x2="134.6" y2="133.9" stroke="#000" stroke-width="1.2"/>
<line x1="203.5" y1="133.2" x2="220.2" y2="133.2" stroke="#000" stroke-width="1.5"/>
<line x1="211.6" y1="127.7" x2="211.6" y2="138" stroke="#000" stroke-width="1.5"/>
<line x1="203.5" y1="130.8" x2="203.5" y2="135.6" stroke="#000" stroke-width="1.2"/>
<line x1="220.2" y1="130.8" x2="220.2" y2="135.6" stroke="#000" stroke-width="1.2"/>
<line x1="209.2" y1="127.7" x2="214" y2="127.7" stroke="#000" stroke-width="1.2"/>
<line x1="209.2" y1="138" x2="214" y2="138" stroke="#000" stroke-width="1.2"/>
<line x1="122.5" y1="144.6" x2="132.3" y2="144.6" stroke="#000" stroke-width="1.5"/>
<line x1="127.1" y1="138" x2="127.1" y2="151" stroke="#000" stroke-width="1.5"/>
<line x1="122.5" y1="142.2" x2="122.5" y2="147" stroke="#000" stroke-width="1.2"/>
<line x1="132.3" y1="142.2" x2="132.3" y2="147" stroke="#000" stroke-width="1.2"/>
<line x1="124.7" y1="138" x2="129.5" y2="138" stroke="#000" stroke-width="1.2"/>
<line x1="124.7" y1="151" x2="129.5" y2="151" stroke="#000" stroke-width="1.2"/>
<line x1="52" y1="149.6" x2="62" y2="149.6" stroke="#000" stroke-width="1.5"/>
<line x1="56.7" y1="145" x2="56.7" y2="154" stroke="#000" stroke-width="1.5"/>
<line x1="52" y1="147.2" x2="52" y2="152" stroke="#000" stroke-width="1.2"/>
<line x1="62" y1="147.2" x2="62" y2="152" stroke="#000" stroke-width="1.2"/>
<line x1="54.3" y1="145" x2="59.1" y2="145" stroke="#000" stroke-width="1.2"/>
<line x1="54.3" y1="154" x2="59.1" y2="154" stroke="#000" stroke-width="1.2"/>
<line x1="46" y1="154.6" x2="58" y2="154.6" stroke="#000" stroke-width="1.5"/>
<line x1="52.4" y1="150.5" x2="52.4" y2="158.5" stroke="#000" stroke-width="1.5"/>
<line x1="46" y1="152.2" x2="46" y2="157" stroke="#000" stroke-width="1.2"/>
<line x1="58" y1="152.2" x2="58" y2="157" stroke="#000" stroke-width="1.2"/>
<line x1="50" y1="150.5" x2="54.8" y2="150.5" stroke="#000" stroke-width="1.2"/>
<line x1="50" y1="158.5" x2="54.8" y2="158.5" stroke="#000" stroke-width="1.2"/>
<line x1="50" y1="158.6" x2="62" y2="158.6" stroke="#000" stroke-width="1.5"/>
<line x1="56" y1="154.5" x2="56" y2="162.5" stroke="#000" stroke-width="1.5"/>
<line x1="50" y1="156.2" x2="50" y2="161" stroke="#000" stroke-width="1.2"/>
<line x1="62" y1="156.2" x2="62" y2="161" stroke="#000" stroke-width="1.2"/>
<line x1="53.6" y1="154.5" x2="58.4" y2="154.5" stroke="#000" stroke-width="1.2"/>
<line x1="53.6" y1="162.5" x2="58.4" y2="162.5" stroke="#000" stroke-width="1.2"/>
<line x1="56" y1="143.9" x2="101" y2="143.9" stroke="#000" stroke-width="1.5"/>
<line x1="87.1" y1="139" x2="87.1" y2="149" stroke="#000" stroke-width="1.5"/>
<line x1="56" y1="141.5" x2="56" y2="146.3" stroke="#000" stroke-width="1.2"/>
<line x1="101" y1="141.5" x2="101" y2="146.3" stroke="#000" stroke-width="1.2"/>
<line x1="84.7" y1="139" x2="89.5" y2="139" stroke="#000" stroke-width="1.2"/>
<line x1="84.7" y1="149" x2="89.5" y2="149" stroke="#000" stroke-width="1.2"/>
<line x1="92" y1="147.4" x2="106" y2="147.4" stroke="#000" stroke-width="1.5"/>
<line x1="98.1" y1="143.5" x2="98.1" y2="151.5" stroke="#000" stroke-width="1.5"/>
<line x1="92" y1="145" x2="92" y2="149.8" stroke="#000" stroke-width="1.2"/>
<line x1="106" y1="145" x2="106" y2="149.8" stroke="#000" stroke-width="1.2"/>
<line x1="95.7" y1="143.5" x2="100.5" y2="143.5" stroke="#000" stroke-width="1.2"/>
<line x1="95.7" y1="151.5" x2="100.5" y2="151.5" stroke="#000" stroke-width="1.2"/>
<line x1="61" y1="157.1" x2="83.9" y2="157.1" stroke="#000" stroke-width="1.5"/>
<line x1="77.1" y1="150.3" x2="77.1" y2="163.9" stroke="#000" stroke-width="1.5"/>
<line x1="61" y1="154.7" x2="61" y2="159.5" stroke="#000" stroke-width="1.2"/>
<line x1="83.9" y1="154.7" x2="83.9" y2="159.5" stroke="#000" stroke-width="1.2"/>
<line x1="74.7" y1="150.3" x2="79.5" y2="150.3" stroke="#000" stroke-width="1.2"/>
<line x1="74.7" y1="163.9" x2="79.5" y2="163.9" stroke="#000" stroke-width="1.2"/>
<line x1="43.9" y1="166.8" x2="56.5" y2="166.8" stroke="#000" stroke-width="1.5"/>
<line x1="50.3" y1="161.5" x2="50.3" y2="173.5" stroke="#000" stroke-width="1.5"/>
<line x1="43.9" y1="164.4" x2="43.9" y2="169.2" stroke="#000" stroke-width="1.2"/>
<line x1="56.5" y1="164.4" x2="56.5" y2="169.2" stroke="#000" stroke-width="1.2"/>
<line x1="47.9" y1="161.5" x2="52.7" y2="161.5" stroke="#000" stroke-width="1.2"/>
<line x1="47.9" y1="173.5" x2="52.7" y2="173.5" stroke="#000" stroke-width="1.2"/>
<path d="M63.5 62.7L66.5 65.7L63.5 68.7L60.5 65.7Z" fill="#98df8a" stroke="#3f7f3a" stroke-width="0.7"/>
<path d="M68.6 55.8L71.6 58.8L68.6 61.8L65.6 58.8Z" fill="#98df8a" stroke="#3f7f3a" stroke-width="0.7"/>
<path d="M63.8 102.6L66.8 105.6L63.8 108.6L60.8 105.6Z" fill="#98df8a" stroke="#3f7f3a" stroke-width="0.7"/>
<path d="M98.8 110.6L101.8 113.6L98.8 116.6L95.8 113.6Z" fill="#98df8a" stroke="#3f7f3a" stroke-width="0.7"/>
<path d="M142.6 110.3L145.6 113.3L142.6 116.3L139.6 113.3Z" fill="#98df8a" stroke="#3f7f3a" stroke-width="0.7"/>
<path d="M66.3 115.5L69.3 118.5L66.3 121.5L63.3 118.5Z" fill="#98df8a" stroke="#3f7f3a" stroke-width="0.7"/>
<path d="M142.6 119.7L145.6 122.7L142.6 125.7L139.6 122.7Z" fill="#98df8a" stroke="#3f7f3a" stroke-width="0.7"/>
<path d="M84.6 121L87.6 124L84.6 127L81.6 124Z" fill="#98df8a" stroke="#3f7f3a" stroke-width="0.7"/>
<path d="M60.3 126.1L63.3 129.1L60.3 132.1L57.3 129.1Z" fill="#98df8a" stroke="#3f7f3a" stroke-width="0.7"/>
<path d="M66.3 130.8L69.3 133.8L66.3 136.8L63.3 133.8Z" fill="#98df8a" stroke="#3f7f3a" stroke-width="0.7"/>
<path d="M98.7 129.8L101.7 132.8L98.7 135.8L95.7 132.8Z" fill="#98df8a" stroke="#3f7f3a" stroke-width="0.7"/>
<path d="M52.3 136.3L55.3 139.3L52.3 142.3L49.3 139.3Z" fill="#98df8a" stroke="#3f7f3a" stroke-width="0.7"/>
<path d="M62.4 151.6L65.4 154.6L62.4 157.6L59.4 154.6Z" fill="#98df8a" stroke="#3f7f3a" stroke-width="0.7"/>
<path d="M58.9 162.7L61.9 165.7L58.9 168.7L55.9 165.7Z" fill="#98df8a" stroke="#3f7f3a" stroke-width="0.7"/>
<path d="M58.9 167.9L61.9 170.9L58.9 173.9L55.9 170.9Z" fill="#98df8a" stroke="#3f7f3a" stroke-width="0.7"/>
<path d="M117.4 164.9L120.4 167.9L117.4 170.9L114.4 167.9Z" fill="#98df8a" stroke="#3f7f3a" stroke-width="0.7"/>
<path d="M101.1 170.7L104.1 173.7L101.1 176.7L98.1 173.7Z" fill="#98df8a" stroke="#3f7f3a" stroke-width="0.7"/>
<path d="M304.7 167.8L307.7 170.8L304.7 173.8L301.7 170.8Z" fill="#98df8a" stroke="#3f7f3a" stroke-width="0.7"/>
<path d="M98.9 161.3L101.9 164.3L98.9 167.3L95.9 164.3Z" fill="#98df8a" stroke="#3f7f3a" stroke-width="0.7"/>
<path d="M54.6 172.7L57.6 175.7L54.6 178.7L51.6 175.7Z" fill="#98df8a" stroke="#3f7f3a" stroke-width="0.7"/>
<path d="M59.4 181.3L62.4 184.3L59.4 187.3L56.4 184.3Z" fill="#98df8a" stroke="#3f7f3a" stroke-width="0.7"/>
<path d="M112.6 180L115.6 183L112.6 186L109.6 183Z" fill="#98df8a" stroke="#3f7f3a" stroke-width="0.7"/>
<path d="M54.6 194.1L57.6 197.1L54.6 200.1L51.6 197.1Z" fill="#98df8a" stroke="#3f7f3a" stroke-width="0.7"/>
<path d="M98.9 192.2L101.9 195.2L98.9 198.2L95.9 195.2Z" fill="#98df8a" stroke="#3f7f3a" stroke-width="0.7"/>
<path d="M96.7 152.3L99.7 155.3L96.7 158.3L93.7 155.3Z" fill="#98df8a" stroke="#3f7f3a" stroke-width="0.7"/>
<path d="M142.4 119.4L145.4 122.4L142.4 125.4L139.4 122.4Z" fill="#98df8a" stroke="#3f7f3a" stroke-width="0.7"/>
<path d="M137.9 124.6L140.9 127.6L137.9 130.6L134.9 127.6Z" fill="#98df8a" stroke="#3f7f3a" stroke-width="0.7"/>
<path d="M87.1 139.8L90.1 142.8L87.1 145.8L84.1 142.8Z" fill="#98df8a" stroke="#3f7f3a" stroke-width="0.7"/>
<path d="M56.7 145.7L59.7 148.7L56.7 151.7L53.7 148.7Z" fill="#98df8a" stroke="#3f7f3a" stroke-width="0.7"/>
<path d="M56.7 148.2L59.7 151.2L56.7 154.2L53.7 151.2Z" fill="#98df8a" stroke="#3f7f3a" stroke-width="0.7"/>
<path d="M56 156.4L59 159.4L56 162.4L53 159.4Z" fill="#98df8a" stroke="#3f7f3a" stroke-width="0.7"/>
<line x1="64" y1="191.4" x2="68.8" y2="191.4" stroke="#111" stroke-width="1.2"/>
<path d="M66.4 183L69.5 186.1L66.4 189.2L63.3 186.1Z" fill="#98df8a" stroke="#1a3a1a" stroke-width="1.0"/>
<path d="M70.4 13.5L73.3 16.4L70.4 19.3L67.5 16.4Z" fill="#aec7e8" stroke="#51709a" stroke-width="0.7"/>
<path d="M92.9 14.1L95.8 17L92.9 19.9L90 17Z" fill="#aec7e8" stroke="#51709a" stroke-width="0.7"/>
<path d="M70.4 27.9L73.3 30.8L70.4 33.7L67.5 30.8Z" fill="#aec7e8" stroke="#51709a" stroke-width="0.7"/>
<path d="M138.5 35.3L141.4 38.2L138.5 41.1L135.6 38.2Z" fill="#aec7e8" stroke="#51709a" stroke-width="0.7"/>
<path d="M111.9 56.3L114.8 59.2L111.9 62.1L109 59.2Z" fill="#aec7e8" stroke="#51709a" stroke-width="0.7"/>
<path d="M129.6 66.9L132.5 69.8L129.6 72.7L126.7 69.8Z" fill="#aec7e8" stroke="#51709a" stroke-width="0.7"/>
<path d="M135.7 75.4L138.6 78.3L135.7 81.2L132.8 78.3Z" fill="#aec7e8" stroke="#51709a" stroke-width="0.7"/>
<path d="M141.7 90.6L144.6 93.5L141.7 96.4L138.8 93.5Z" fill="#aec7e8" stroke="#51709a" stroke-width="0.7"/>
<path d="M67.6 66.7L70.5 69.6L67.6 72.5L64.7 69.6Z" fill="#aec7e8" stroke="#51709a" stroke-width="0.7"/>
<path d="M75.2 68.3L78.1 71.2L75.2 74.1L72.3 71.2Z" fill="#aec7e8" stroke="#51709a" stroke-width="0.7"/>
<path d="M49.5 77.8L52.4 80.7L49.5 83.6L46.6 80.7Z" fill="#aec7e8" stroke="#51709a" stroke-width="0.7"/>
<path d="M65.5 78.4L68.4 81.3L65.5 84.2L62.6 81.3Z" fill="#aec7e8" stroke="#51709a" stroke-width="0.7"/>
<path d="M126.6 97L129.5 99.9L126.6 102.8L123.7 99.9Z" fill="#aec7e8" stroke="#51709a" stroke-width="0.7"/>
<path d="M126.6 111.7L129.5 114.6L126.6 117.5L123.7 114.6Z" fill="#aec7e8" stroke="#51709a" stroke-width="0.7"/>
<path d="M70.2 85.1L73.1 88L70.2 90.9L67.3 88Z" fill="#aec7e8" stroke="#51709a" stroke-width="0.7"/>
<path d="M70.4 91.3L73.3 94.2L70.4 97.1L67.5 94.2Z" fill="#aec7e8" stroke="#51709a" stroke-width="0.7"/>
<path d="M72.9 90.3L75.8 93.2L72.9 96.1L70 93.2Z" fill="#aec7e8" stroke="#51709a" stroke-width="0.7"/>
<path d="M63.4 97.9L66.3 100.8L63.4 103.7L60.5 100.8Z" fill="#aec7e8" stroke="#51709a" stroke-width="0.7"/>
<path d="M95.6 88.2L98.5 91.1L95.6 94L92.7 91.1Z" fill="#aec7e8" stroke="#51709a" stroke-width="0.7"/>
<path d="M100.9 89.3L103.8 92.2L100.9 95.1L98 92.2Z" fill="#aec7e8" stroke="#51709a" stroke-width="0.7"/>
<path d="M92.7 93.6L95.6 96.5L92.7 99.4L89.8 96.5Z" fill="#aec7e8" stroke="#51709a" stroke-width="0.7"/>
<path d="M92.7 97.9L95.6 100.8L92.7 103.7L89.8 100.8Z" fill="#aec7e8" stroke="#51709a" stroke-width="0.7"/>
<path d="M109.9 86.7L112.8 89.6L109.9 92.5L107 89.6Z" fill="#aec7e8" stroke="#51709a" stroke-width="0.7"/>
<path d="M75.4 102.5L78.3 105.4L75.4 108.3L72.5 105.4Z" fill="#aec7e8" stroke="#51709a" stroke-width="0.7"/>
<path d="M75.4 105.3L78.3 108.2L75.4 111.1L72.5 108.2Z" fill="#aec7e8" stroke="#51709a" stroke-width="0.7"/>
<path d="M79.9 104.9L82.8 107.8L79.9 110.7L77 107.8Z" fill="#aec7e8" stroke="#51709a" stroke-width="0.7"/>
<path d="M95.6 106.2L98.5 109.1L95.6 112L92.7 109.1Z" fill="#aec7e8" stroke="#51709a" stroke-width="0.7"/>
<path d="M101.4 105.8L104.3 108.7L101.4 111.6L98.5 108.7Z" fill="#aec7e8" stroke="#51709a" stroke-width="0.7"/>
<path d="M94 108.5L96.9 111.4L94 114.3L91.1 111.4Z" fill="#aec7e8" stroke="#51709a" stroke-width="0.7"/>
<path d="M115 106.5L117.9 109.4L115 112.3L112.1 109.4Z" fill="#aec7e8" stroke="#51709a" stroke-width="0.7"/>
<path d="M70.6 129.4L73.5 132.3L70.6 135.2L67.7 132.3Z" fill="#aec7e8" stroke="#51709a" stroke-width="0.7"/>
<path d="M77.8 134.2L80.7 137.1L77.8 140L74.9 137.1Z" fill="#aec7e8" stroke="#51709a" stroke-width="0.7"/>
<path d="M75.3 146.7L78.2 149.6L75.3 152.5L72.4 149.6Z" fill="#aec7e8" stroke="#51709a" stroke-width="0.7"/>
<path d="M79.5 143.7L82.4 146.6L79.5 149.5L76.6 146.6Z" fill="#aec7e8" stroke="#51709a" stroke-width="0.7"/>
<path d="M92.9 137.4L95.8 140.3L92.9 143.2L90 140.3Z" fill="#aec7e8" stroke="#51709a" stroke-width="0.7"/>
<path d="M111.6 120.7L114.5 123.6L111.6 126.5L108.7 123.6Z" fill="#aec7e8" stroke="#51709a" stroke-width="0.7"/>
<path d="M115.4 122L118.3 124.9L115.4 127.8L112.5 124.9Z" fill="#aec7e8" stroke="#51709a" stroke-width="0.7"/>
<path d="M135.4 124.1L138.3 127L135.4 129.9L132.5 127Z" fill="#aec7e8" stroke="#51709a" stroke-width="0.7"/>
<path d="M105.5 23.8L108.5 26.8L105.5 29.8L102.5 26.8Z" fill="#ff7f0e" stroke="#5c2c05" stroke-width="0.7"/>
<path d="M160.4 58.6L163.4 61.6L160.4 64.6L157.4 61.6Z" fill="#ff7f0e" stroke="#5c2c05" stroke-width="0.7"/>
<path d="M96.4 75.6L99.4 78.6L96.4 81.6L93.4 78.6Z" fill="#ff7f0e" stroke="#5c2c05" stroke-width="0.7"/>
<path d="M112.2 75.6L115.2 78.6L112.2 81.6L109.2 78.6Z" fill="#ff7f0e" stroke="#5c2c05" stroke-width="0.7"/>
<path d="M111.1 84.2L114.1 87.2L111.1 90.2L108.1 87.2Z" fill="#ff7f0e" stroke="#5c2c05" stroke-width="0.7"/>
<path d="M116.7 84.2L119.7 87.2L116.7 90.2L113.7 87.2Z" fill="#ff7f0e" stroke="#5c2c05" stroke-width="0.7"/>
<path d="M113.3 110.3L116.3 113.3L113.3 116.3L110.3 113.3Z" fill="#ff7f0e" stroke="#5c2c05" stroke-width="0.7"/>
<path d="M97.2 114L100.2 117L97.2 120L94.2 117Z" fill="#ff7f0e" stroke="#5c2c05" stroke-width="0.7"/>
<path d="M103.2 11.5L106 14.3L103.2 17.1L100.4 14.3Z" fill="#2ca02c" stroke="#0e3a0e" stroke-width="0.7"/>
<path d="M154.2 43.3L157 46.1L154.2 48.9L151.4 46.1Z" fill="#2ca02c" stroke="#0e3a0e" stroke-width="0.7"/>
<polygon points="56.6,27.2 57.49,29.58 60.02,29.69 58.04,31.27 58.72,33.71 56.6,32.31 54.48,33.71 55.16,31.27 53.18,29.69 55.71,29.58" fill="#ffbb78" stroke="#8a5a2e" stroke-width="0.6"/>
<polygon points="55,35.8 55.89,38.18 58.42,38.29 56.44,39.87 57.12,42.31 55,40.91 52.88,42.31 53.56,39.87 51.58,38.29 54.11,38.18" fill="#ffbb78" stroke="#8a5a2e" stroke-width="0.6"/>
<polygon points="56.5,109 57.39,111.38 59.92,111.49 57.94,113.07 58.62,115.51 56.5,114.11 54.38,115.51 55.06,113.07 53.08,111.49 55.61,111.38" fill="#ffbb78" stroke="#8a5a2e" stroke-width="0.6"/>
<polygon points="53.8,22.6 54.74,25.11 57.41,25.23 55.32,26.89 56.03,29.47 53.8,28 51.57,29.47 52.28,26.89 50.19,25.23 52.86,25.11" fill="#1f77b4" stroke="#0d2d4a" stroke-width="0.6"/>
<polygon points="116.2,66 117.14,68.51 119.81,68.63 117.72,70.29 118.43,72.87 116.2,71.4 113.97,72.87 114.68,70.29 112.59,68.63 115.26,68.51" fill="#1f77b4" stroke="#0d2d4a" stroke-width="0.6"/>
<polygon points="84.6,83.2 85.54,85.71 88.21,85.83 86.12,87.49 86.83,90.07 84.6,88.6 82.37,90.07 83.08,87.49 80.99,85.83 83.66,85.71" fill="#1f77b4" stroke="#0d2d4a" stroke-width="0.6"/>
<circle cx="60.7" cy="60.1" r="3" fill="#888" stroke="#000000" stroke-width="1.3"/>
<circle cx="68.1" cy="64.3" r="3" fill="#888" stroke="#000000" stroke-width="1.3"/>
<circle cx="108" cy="105" r="3" fill="#888" stroke="#000000" stroke-width="1.3"/>
<circle cx="95.2" cy="121.2" r="3" fill="#888" stroke="#000000" stroke-width="1.3"/>
<circle cx="54" cy="128.6" r="3" fill="#888" stroke="#000000" stroke-width="1.3"/>
<circle cx="112.6" cy="129.3" r="3" fill="#888" stroke="#000000" stroke-width="1.3"/>
<circle cx="132.2" cy="128.9" r="3" fill="#888" stroke="#000000" stroke-width="1.3"/>
<circle cx="211.6" cy="133.2" r="3" fill="#888" stroke="#000000" stroke-width="1.3"/>
<circle cx="127.1" cy="144.6" r="3" fill="#888" stroke="#000000" stroke-width="1.3"/>
<circle cx="56.7" cy="149.6" r="3" fill="#888" stroke="#000000" stroke-width="1.3"/>
<circle cx="52.4" cy="154.6" r="3" fill="#888" stroke="#000000" stroke-width="1.3"/>
<circle cx="56" cy="158.6" r="3" fill="#888" stroke="#000000" stroke-width="1.3"/>
<circle cx="87.1" cy="143.9" r="3" fill="#888" stroke="#000000" stroke-width="1.3"/>
<circle cx="98.1" cy="147.4" r="3" fill="#888" stroke="#000000" stroke-width="1.3"/>
<circle cx="77.1" cy="157.1" r="3" fill="#888" stroke="#000000" stroke-width="1.3"/>
<circle cx="50.3" cy="166.8" r="3" fill="#888" stroke="#000000" stroke-width="1.3"/>
<path d="M58.8 71.3L62.7 75.2L58.8 79.1L54.9 75.2Z" fill="#ffe0a8" stroke="#000" stroke-width="1.1"/>
</g>
<rect x="36.4" y="1" width="277.6" height="211" fill="none" stroke="#262626" stroke-width="0.9"/>
<line x1="36.4" y1="212" x2="36.4" y2="214.6" stroke="#222" stroke-width="0.8"/>
<text x="36.4" y="226.3" text-anchor="middle" class="tk">8</text>
<line x1="82.66" y1="212" x2="82.66" y2="214.6" stroke="#222" stroke-width="0.8"/>
<text x="82.66" y="226.3" text-anchor="middle" class="tk" textLength="13.2" lengthAdjust="spacingAndGlyphs">10</text>
<line x1="128.92" y1="212" x2="128.92" y2="214.6" stroke="#222" stroke-width="0.8"/>
<text x="128.92" y="226.3" text-anchor="middle" class="tk" textLength="13.2" lengthAdjust="spacingAndGlyphs">12</text>
<line x1="175.18" y1="212" x2="175.18" y2="214.6" stroke="#222" stroke-width="0.8"/>
<text x="175.18" y="226.3" text-anchor="middle" class="tk" textLength="13.2" lengthAdjust="spacingAndGlyphs">14</text>
<line x1="221.44" y1="212" x2="221.44" y2="214.6" stroke="#222" stroke-width="0.8"/>
<text x="221.44" y="226.3" text-anchor="middle" class="tk" textLength="13.2" lengthAdjust="spacingAndGlyphs">16</text>
<line x1="267.7" y1="212" x2="267.7" y2="214.6" stroke="#222" stroke-width="0.8"/>
<text x="267.7" y="226.3" text-anchor="middle" class="tk" textLength="13.2" lengthAdjust="spacingAndGlyphs">18</text>
<line x1="313.96" y1="212" x2="313.96" y2="214.6" stroke="#222" stroke-width="0.8"/>
<text x="313.96" y="226.3" text-anchor="middle" class="tk" textLength="13.2" lengthAdjust="spacingAndGlyphs">20</text>
<line x1="33.8" y1="31.4" x2="36.4" y2="31.4" stroke="#222" stroke-width="0.8"/>
<text x="30.6" y="35.6" text-anchor="end" class="tk" textLength="13.2" lengthAdjust="spacingAndGlyphs">27</text>
<line x1="33.8" y1="74.4" x2="36.4" y2="74.4" stroke="#222" stroke-width="0.8"/>
<text x="30.6" y="78.6" text-anchor="end" class="tk" textLength="13.2" lengthAdjust="spacingAndGlyphs">28</text>
<line x1="33.8" y1="117.4" x2="36.4" y2="117.4" stroke="#222" stroke-width="0.8"/>
<text x="30.6" y="121.6" text-anchor="end" class="tk" textLength="13.2" lengthAdjust="spacingAndGlyphs">29</text>
<line x1="33.8" y1="160.4" x2="36.4" y2="160.4" stroke="#222" stroke-width="0.8"/>
<text x="30.6" y="164.6" text-anchor="end" class="tk" textLength="13.2" lengthAdjust="spacingAndGlyphs">30</text>
<line x1="33.8" y1="203.4" x2="36.4" y2="203.4" stroke="#222" stroke-width="0.8"/>
<text x="30.6" y="207.6" text-anchor="end" class="tk" textLength="13.2" lengthAdjust="spacingAndGlyphs">31</text>
<text x="144.2" y="239.8" class="xl" textLength="62.0" lengthAdjust="spacingAndGlyphs">Redshift (z)</text>
<g transform="translate(12.0,131.9) rotate(-90)">
<text x="0" y="0" style="font-size:12.5px;font-style:italic" textLength="9.6" lengthAdjust="spacingAndGlyphs">m</text>
<text x="10.2" y="0.6" style="font-size:9px" textLength="40.4" lengthAdjust="spacingAndGlyphs">F277W, AB</text>
</g>
<rect x="1.9" y="258.9" width="346.4" height="43.6" rx="2.5" fill="#fff" stroke="#cccccc" stroke-width="1.0"/>
<line x1="9.6" y1="266.2" x2="19.6" y2="266.2" stroke="#1f77b4" stroke-width="1.3"/>
<line x1="14.6" y1="261.4" x2="14.6" y2="271" stroke="#1f77b4" stroke-width="1.3"/>
<line x1="9.6" y1="264" x2="9.6" y2="268.4" stroke="#8c8c8c" stroke-width="0.8"/>
<line x1="19.6" y1="264" x2="19.6" y2="268.4" stroke="#8c8c8c" stroke-width="0.8"/>
<line x1="12.4" y1="261.4" x2="16.8" y2="261.4" stroke="#8c8c8c" stroke-width="0.8"/>
<line x1="12.4" y1="271" x2="16.8" y2="271" stroke="#8c8c8c" stroke-width="0.8"/>
<polygon points="14.6,262.4 15.54,264.91 18.21,265.03 16.12,266.69 16.83,269.27 14.6,267.8 12.37,269.27 13.08,266.69 10.99,265.03 13.66,264.91" fill="#1f77b4" stroke="#0d2d4a" stroke-width="0.6"/>
<text x="31.6" y="270" class="lg" textLength="84.8" lengthAdjust="spacingAndGlyphs">Arrabal Haro+23a</text>
<line x1="9.6" y1="279.9" x2="19.6" y2="279.9" stroke="#aec7e8" stroke-width="1.3"/>
<line x1="14.6" y1="275.1" x2="14.6" y2="284.7" stroke="#aec7e8" stroke-width="1.3"/>
<line x1="9.6" y1="277.7" x2="9.6" y2="282.1" stroke="#8c8c8c" stroke-width="0.8"/>
<line x1="19.6" y1="277.7" x2="19.6" y2="282.1" stroke="#8c8c8c" stroke-width="0.8"/>
<line x1="12.4" y1="275.1" x2="16.8" y2="275.1" stroke="#8c8c8c" stroke-width="0.8"/>
<line x1="12.4" y1="284.7" x2="16.8" y2="284.7" stroke="#8c8c8c" stroke-width="0.8"/>
<path d="M14.6 277L17.5 279.9L14.6 282.8L11.7 279.9Z" fill="#aec7e8" stroke="#51709a" stroke-width="0.7"/>
<text x="31.6" y="283.5" class="lg" textLength="56.6" lengthAdjust="spacingAndGlyphs">Donnan+22</text>
<line x1="9.6" y1="293.6" x2="19.6" y2="293.6" stroke="#ff7f0e" stroke-width="1.3"/>
<line x1="14.6" y1="288.8" x2="14.6" y2="298.4" stroke="#ff7f0e" stroke-width="1.3"/>
<line x1="9.6" y1="291.4" x2="9.6" y2="295.8" stroke="#8c8c8c" stroke-width="0.8"/>
<line x1="19.6" y1="291.4" x2="19.6" y2="295.8" stroke="#8c8c8c" stroke-width="0.8"/>
<line x1="12.4" y1="288.8" x2="16.8" y2="288.8" stroke="#8c8c8c" stroke-width="0.8"/>
<line x1="12.4" y1="298.4" x2="16.8" y2="298.4" stroke="#8c8c8c" stroke-width="0.8"/>
<path d="M14.6 290.6L17.6 293.6L14.6 296.6L11.6 293.6Z" fill="#ff7f0e" stroke="#5c2c05" stroke-width="0.7"/>
<text x="31.6" y="296.9" class="lg" textLength="69.5" lengthAdjust="spacingAndGlyphs">Finkelstein+22</text>
<line x1="139.6" y1="266.2" x2="149.6" y2="266.2" stroke="#c8955a" stroke-width="1.3"/>
<line x1="144.6" y1="261.4" x2="144.6" y2="271" stroke="#c8955a" stroke-width="1.3"/>
<line x1="139.6" y1="264" x2="139.6" y2="268.4" stroke="#8c8c8c" stroke-width="0.8"/>
<line x1="149.6" y1="264" x2="149.6" y2="268.4" stroke="#8c8c8c" stroke-width="0.8"/>
<line x1="142.4" y1="261.4" x2="146.8" y2="261.4" stroke="#8c8c8c" stroke-width="0.8"/>
<line x1="142.4" y1="271" x2="146.8" y2="271" stroke="#8c8c8c" stroke-width="0.8"/>
<polygon points="144.6,262.5 145.51,264.94 148.12,265.06 146.08,266.68 146.77,269.19 144.6,267.75 142.43,269.19 143.12,266.68 141.08,265.06 143.69,264.94" fill="#ffbb78" stroke="#8a5a2e" stroke-width="0.6"/>
<text x="161.2" y="270" class="lg" textLength="60.5" lengthAdjust="spacingAndGlyphs">Fujimoto+23</text>
<line x1="140" y1="279.9" x2="149.2" y2="279.9" stroke="#2ca02c" stroke-width="1.3"/>
<line x1="144.6" y1="275.3" x2="144.6" y2="284.5" stroke="#2ca02c" stroke-width="1.3"/>
<line x1="140" y1="277.7" x2="140" y2="282.1" stroke="#555" stroke-width="0.8"/>
<line x1="149.2" y1="277.7" x2="149.2" y2="282.1" stroke="#555" stroke-width="0.8"/>
<line x1="142.4" y1="275.3" x2="146.8" y2="275.3" stroke="#555" stroke-width="0.8"/>
<line x1="142.4" y1="284.5" x2="146.8" y2="284.5" stroke="#555" stroke-width="0.8"/>
<path d="M144.6 277.1L147.4 279.9L144.6 282.7L141.8 279.9Z" fill="#2ca02c" stroke="#0e3a0e" stroke-width="0.7"/>
<text x="161.2" y="283.5" class="lg" textLength="47.6" lengthAdjust="spacingAndGlyphs">Naidu+22</text>
<line x1="139.6" y1="293.6" x2="149.6" y2="293.6" stroke="#6cc45c" stroke-width="1.3"/>
<line x1="144.6" y1="288.8" x2="144.6" y2="298.4" stroke="#6cc45c" stroke-width="1.3"/>
<line x1="139.6" y1="291.4" x2="139.6" y2="295.8" stroke="#8c8c8c" stroke-width="0.8"/>
<line x1="149.6" y1="291.4" x2="149.6" y2="295.8" stroke="#8c8c8c" stroke-width="0.8"/>
<line x1="142.4" y1="288.8" x2="146.8" y2="288.8" stroke="#8c8c8c" stroke-width="0.8"/>
<line x1="142.4" y1="298.4" x2="146.8" y2="298.4" stroke="#8c8c8c" stroke-width="0.8"/>
<path d="M144.6 290.8L147.4 293.6L144.6 296.4L141.8 293.6Z" fill="#98df8a" stroke="#3f7f3a" stroke-width="0.7"/>
<text x="161.2" y="296.9" class="lg" textLength="91.8" lengthAdjust="spacingAndGlyphs">Perez-Gonzalez+23</text>
<line x1="277.5" y1="266.2" x2="287.9" y2="266.2" stroke="#000" stroke-width="1.5"/>
<line x1="282.7" y1="261" x2="282.7" y2="271.4" stroke="#000" stroke-width="1.5"/>
<line x1="277.5" y1="263.8" x2="277.5" y2="268.6" stroke="#000" stroke-width="1.2"/>
<line x1="287.9" y1="263.8" x2="287.9" y2="268.6" stroke="#000" stroke-width="1.2"/>
<line x1="280.3" y1="261" x2="285.1" y2="261" stroke="#000" stroke-width="1.2"/>
<line x1="280.3" y1="271.4" x2="285.1" y2="271.4" stroke="#000" stroke-width="1.2"/>
<circle cx="282.7" cy="266.2" r="3.3" fill="#808080" stroke="#000" stroke-width="1.1"/>
<text x="298.8" y="270" class="lg" textLength="45.9" lengthAdjust="spacingAndGlyphs">This Work</text>
<line x1="277.5" y1="279.9" x2="287.9" y2="279.9" stroke="#000" stroke-width="1.5"/>
<line x1="282.7" y1="274.7" x2="282.7" y2="285.1" stroke="#000" stroke-width="1.5"/>
<line x1="277.5" y1="277.5" x2="277.5" y2="282.3" stroke="#000" stroke-width="1.2"/>
<line x1="287.9" y1="277.5" x2="287.9" y2="282.3" stroke="#000" stroke-width="1.2"/>
<line x1="280.3" y1="274.7" x2="285.1" y2="274.7" stroke="#000" stroke-width="1.2"/>
<line x1="280.3" y1="285.1" x2="285.1" y2="285.1" stroke="#000" stroke-width="1.2"/>
<path d="M282.7 275.9L286.7 279.9L282.7 283.9L278.7 279.9Z" fill="#ffe0a8" stroke="#000" stroke-width="1.1"/>
<text x="298.8" y="283.5" class="lg" textLength="42.5" lengthAdjust="spacingAndGlyphs">NGD-z9d</text>
</svg>
</body></html>
